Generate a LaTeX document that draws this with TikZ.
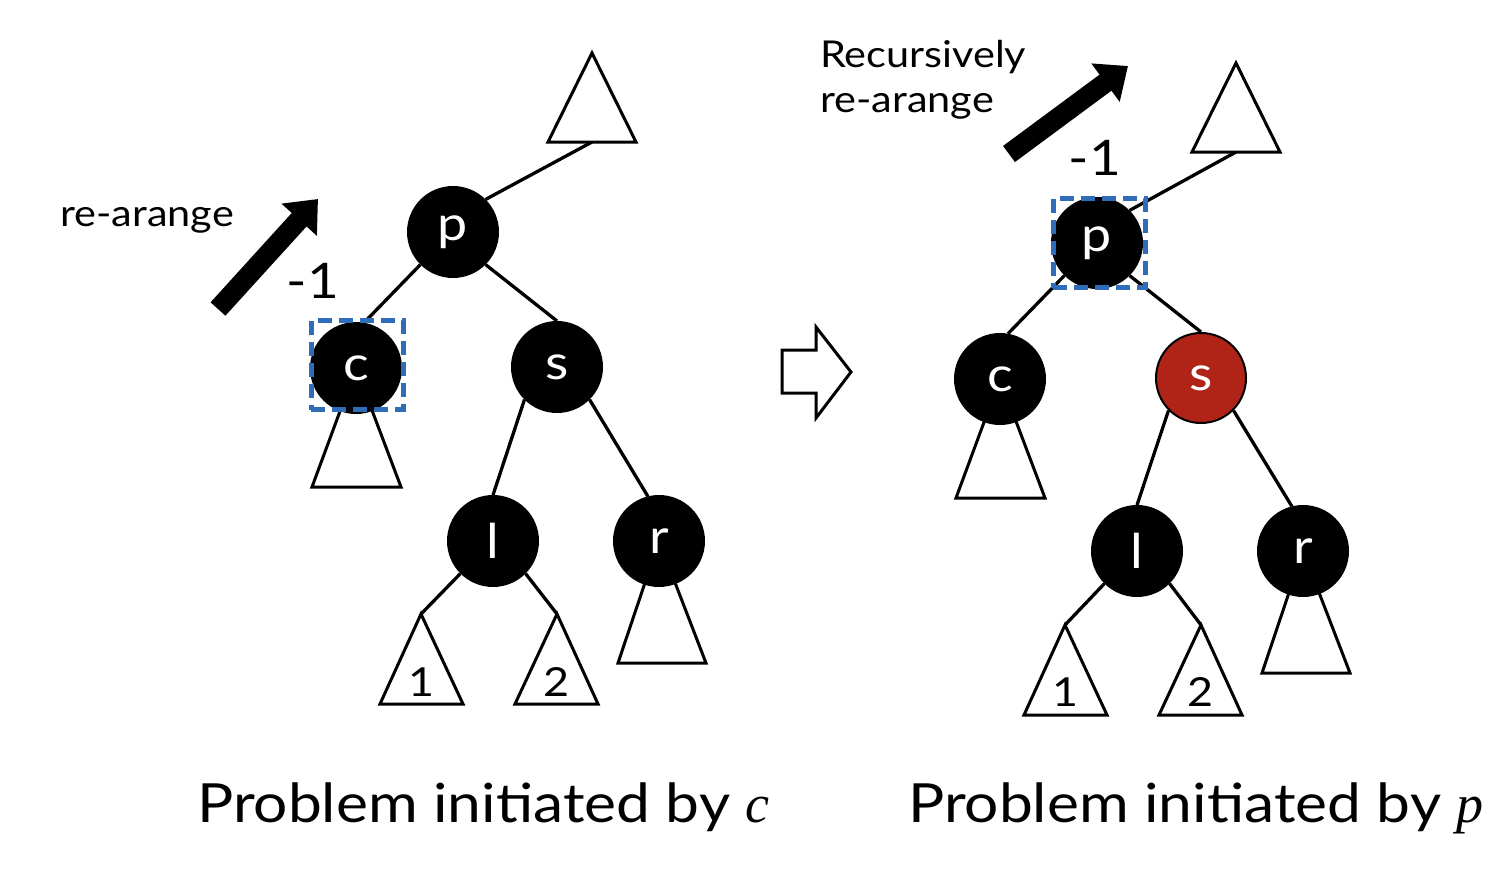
\documentclass[tikz,border=0pt]{standalone}
\usepackage{fontspec}
\setmainfont{Lato}[FakeStretch=1.12]
\newfontfamily\varfont{Liberation Serif}
\usetikzlibrary{arrows.meta}
\pgfdeclarelayer{bg}
\pgfsetlayers{bg,main}
\definecolor{boxblue}{HTML}{2F6DB8}
\definecolor{sred}{HTML}{B02418}
\tikzset{
 rb/.style={circle, fill=black, draw=black, line width=2pt, minimum size=90pt, inner sep=0pt, text=white, font=\fontsize{48}{48}\selectfont},
 redn/.style={rb, fill=sred},
 edge/.style={line width=3.3pt},
 sub/.style={line width=3pt, fill=white, line join=miter},
 sel/.style={draw=boxblue, line width=5pt, dash pattern=on 14pt off 7pt, minimum width=92pt, minimum height=89pt, inner sep=0pt},
 bigarrow/.style={line width=20pt, -{Triangle[length=28pt,width=46pt]}},
 lbl/.style={font=\fontsize{37}{45}\selectfont, align=left, inner sep=0pt},
 minus/.style={font=\fontsize{49}{49}\selectfont},
 num/.style={font=\fontsize{40}{40}\selectfont},
 title/.style={font=\fontsize{54}{54}\selectfont, anchor=base west, inner sep=0pt},
}
\begin{document}
\begin{tikzpicture}[x=1pt,y=-1pt]
\useasboundingbox (0,0) rectangle (1508,868);
% ---------- left tree ----------
\node[rb] (Lp) at (453,232) {p};
\node[rb] (Lc) at (356,368) {c};
\node[rb] (Ls) at (557,367) {s};
\node[rb] (Ll) at (493,541) {l};
\node[rb] (Lr) at (659,541) {r};
\coordinate (Ltop) at (592,142);
\coordinate (Ll1) at (421,614);
\coordinate (Ll2) at (557,614);
\begin{pgfonlayer}{bg}
 \draw[edge] (Lp.45) -- (Ltop);
 \draw[sub] (Ltop) ++(0,-89) -- ++(44,89) -- ++(-88,0) -- cycle;
 \draw[edge] (Lp.225) -- (Lc.80);
 \draw[edge] (Lp.315) -- (Ls.north);
 \draw[edge] (Ls.225) -- (Ll.north);
 \draw[edge] (Ls.315) -- (Lr.104);
 \draw[edge] (Ll.225) -- (Ll1);
 \draw[edge] (Ll.315) -- (Ll2);
 \draw[sub] (Lc.center) -- ++(-44,119) -- ++(89,0) -- cycle;
 \draw[sub] (Lr.center) -- ++(-41,122) -- ++(88,0) -- cycle;
 \draw[sub] (Ll1) -- ++(-41,90) -- ++(83,0) -- cycle;
 \draw[sub] (Ll2) -- ++(-42,90) -- ++(83,0) -- cycle;
\end{pgfonlayer}
\node[num] (Ln1) at (421,682) {1};
\node[num] (Ln2) at (556,682) {2};
\node[sel] (Lbox) at (357,365) {};
\node[minus] (Lm) at (313,281) {-1};
\coordinate (La0) at (218,309);
\coordinate (La1) at (318,199);
\draw[bigarrow] (La0) -- (La1);
\node[lbl, anchor=base west] (Ltxt) at (60,226) {re-arange};
\node[title] (Ltitle) at (197,822) {Problem initiated by {\varfont\itshape c}};
% ---------- transition arrow ----------
\draw[line width=3pt, line join=miter] (782,350) -- (816,350) -- (816,327) -- (851,372) -- (816,418) -- (816,393) -- (782,393) -- cycle;
% ---------- right tree ----------
\node[rb] (Rp) at (1097,243) {p};
\node[rb] (Rc) at (1000,379) {c};
\node[redn] (Rs) at (1201,378) {s};
\node[rb] (Rl) at (1137,551) {l};
\node[rb] (Rr) at (1303,551) {r};
\coordinate (Rtop) at (1236,152);
\coordinate (Rl1) at (1065,625);
\coordinate (Rl2) at (1201,625);
\begin{pgfonlayer}{bg}
 \draw[edge] (Rp.45) -- (Rtop);
 \draw[sub] (Rtop) ++(0,-89) -- ++(44,89) -- ++(-88,0) -- cycle;
 \draw[edge] (Rp.225) -- (Rc.80);
 \draw[edge] (Rp.315) -- (Rs.north);
 \draw[edge] (Rs.225) -- (Rl.north);
 \draw[edge] (Rs.315) -- (Rr.104);
 \draw[edge] (Rl.225) -- (Rl1);
 \draw[edge] (Rl.315) -- (Rl2);
 \draw[sub] (Rc.center) -- ++(-44,119) -- ++(89,0) -- cycle;
 \draw[sub] (Rr.center) -- ++(-41,122) -- ++(88,0) -- cycle;
 \draw[sub] (Rl1) -- ++(-41,90) -- ++(83,0) -- cycle;
 \draw[sub] (Rl2) -- ++(-42,90) -- ++(83,0) -- cycle;
\end{pgfonlayer}
\node[num] (Rn1) at (1065,692) {1};
\node[num] (Rn2) at (1200,692) {2};
\node[sel] (Rbox) at (1099,243) {};
\node[minus] (Rm) at (1095,158) {-1};
\coordinate (Ra0) at (1009,154);
\coordinate (Ra1) at (1128,66);
\draw[bigarrow] (Ra0) -- (Ra1);
\node[lbl, anchor=base west] (Rtxt) at (820,112) {Recursively\\re-arange};
\node[title] (Rtitle) at (908,822) {Problem initiated by {\varfont\itshape p}};
\end{tikzpicture}
\end{document}
